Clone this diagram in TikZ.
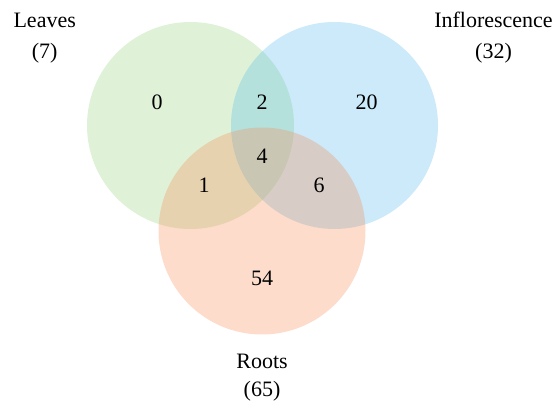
\documentclass[tikz,border=0pt]{standalone}
\usepackage{fontspec}
\setmainfont{Liberation Serif}
\definecolor{leafc}{RGB}{148,212,125}
\definecolor{inflc}{RGB}{85,185,235}
\definecolor{rootc}{RGB}{248,138,82}
\begin{document}
\begin{tikzpicture}[x=1pt,y=-1pt,
  setc/.style={fill opacity=0.3,draw=none},
  lbl/.style={anchor=base,inner sep=0pt,font=\fontsize{22}{26}\selectfont}]
\useasboundingbox (0,0) rectangle (555,403);
\clip (0,0) rectangle (555,403);
\fill[setc,leafc] (190.5,125.5) circle (103.5pt);
\fill[setc,inflc] (334.5,125.5) circle (103.5pt);
\fill[setc,rootc] (262,231) circle (103.5pt);
\node[lbl] (leaves) at (44.7,28) {Leaves};
\node[lbl] (leavesn) at (44.7,59) {(7)};
\node[lbl] (infl) at (493.5,28) {Inflorescence};
\node[lbl] (infln) at (493.5,59) {(32)};
\node[lbl] (roots) at (262,369) {Roots};
\node[lbl] (rootsn) at (262,396.5) {(65)};
\node[lbl] (a) at (157,110) {0};
\node[lbl] (b) at (262,110) {2};
\node[lbl] (c) at (366.7,110) {20};
\node[lbl] (d) at (262,164) {4};
\node[lbl] (e) at (204,193) {1};
\node[lbl] (f) at (319,193) {6};
\node[lbl] (g) at (262,286) {54};
\end{tikzpicture}
\end{document}
